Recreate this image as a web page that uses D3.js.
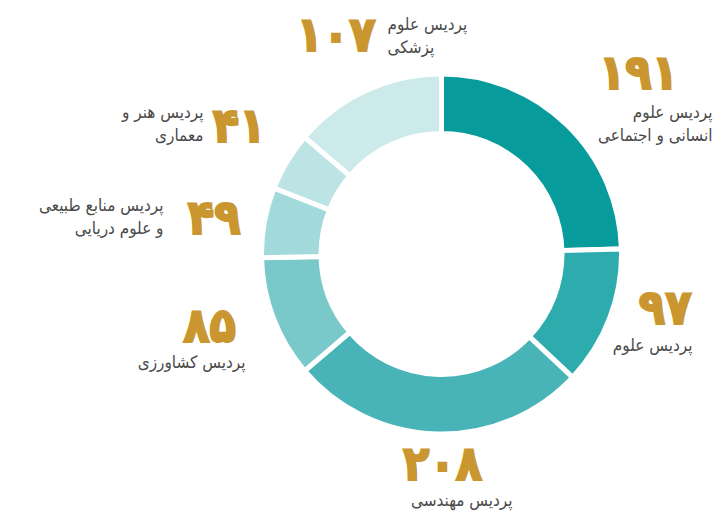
<!DOCTYPE html>
<html>
<head>
<meta charset="utf-8">
<script src="https://cdn.jsdelivr.net/npm/d3@7"></script>
<style>
  html, body { margin: 0; padding: 0; background: #fff; }
  .num { font-family: "DejaVu Sans Condensed", "DejaVu Sans", sans-serif; font-weight: bold; fill: #c9962f; stroke: #c9962f; stroke-width: 2; }
  .lbl { font-family: "DejaVu Sans Condensed", "DejaVu Sans", sans-serif; font-size: 17px; fill: #4a4a4a; }
</style>
</head>
<body>
<div id="chart"></div>
<script>
// --- data ---
const campuses = [
  ["پردیس علوم", "انسانی و اجتماعی"],
  ["پردیس علوم"],
  ["پردیس مهندسی"],
  ["پردیس کشاورزی"],
  ["پردیس منابع طبیعی", "و علوم دریایی"],
  ["پردیس هنر و", "معماری"],
  ["پردیس علوم", "پزشکی"]
];
const counts = [191, 97, 208, 85, 49, 41, 107];
const colors = ["#089b9c", "#2eabad", "#48b4b7", "#79c8ca", "#a2d9db", "#bde4e5", "#cbeae9"];

// label layout, relative to donut centre: number anchor, text anchor, alignment
const labelLayout = [
  { nx: 197, ny: 89 - 254, nAnchor: "middle", tx: 271, ty: 118 - 254, tAnchor: "end" },
  { nx: 250, ny: 324 - 254, nAnchor: "end", tx: 251, ty: 351 - 254, tAnchor: "end" },
  { nx: 1, ny: 480 - 254, nAnchor: "middle", tx: 71, ty: 506 - 254, tAnchor: "end" },
  { nx: -232, ny: 342 - 254, nAnchor: "middle", tx: -196, ty: 368 - 254, tAnchor: "end" },
  { nx: -201, ny: 234 - 254, nAnchor: "end", tx: -278, ty: 211 - 254, tAnchor: "end" },
  { nx: -176, ny: 142 - 254, nAnchor: "end", tx: -238, ty: 118 - 254, tAnchor: "end" },
  { nx: -66, ny: 51 - 254, nAnchor: "end", tx: -54, ty: 30 - 254, tAnchor: "start" }
];

const width = 728, height = 511;
const cx = 441.5, cy = 254;
const outerR = 180, innerR = 120.5;

const faDigits = n => String(n).replace(/\d/g, d => "۰۱۲۳۴۵۶۷۸۹"[d]);

const svg = d3.select("#chart").append("svg")
  .attr("width", width)
  .attr("height", height);

const g = svg.append("g")
  .attr("transform", `translate(${cx}, ${cy})`);

const pie = d3.pie().sort(null).value(d => d);
const arc = d3.arc().innerRadius(innerR).outerRadius(outerR);

g.selectAll("path")
  .data(pie(counts))
  .enter().append("path")
  .attr("d", arc)
  .attr("fill", (d, i) => colors[i])
  .attr("stroke", "#fff")
  .attr("stroke-width", 5)
  .attr("stroke-linejoin", "miter");

// --- annotations ---
const ann = g.selectAll(".annot")
  .data(counts)
  .enter().append("g")
  .attr("class", "annot");

ann.append("text")
  .attr("class", "num")
  .attr("x", (d, i) => labelLayout[i].nx)
  .attr("y", (d, i) => labelLayout[i].ny)
  .attr("text-anchor", (d, i) => labelLayout[i].nAnchor)
  .style("font-size", "48px")
  .style("letter-spacing", "-5px")
  .text(d => faDigits(d));

ann.each(function(d, i) {
  const L = labelLayout[i];
  const t = d3.select(this).append("text")
    .attr("class", "lbl")
    .attr("text-anchor", L.tAnchor);
  campuses[i].forEach((line, k) => {
    t.append("tspan")
      .attr("x", L.tx)
      .attr("y", L.ty + k * 23)
      .text(line);
  });
});
</script>
</body>
</html>
